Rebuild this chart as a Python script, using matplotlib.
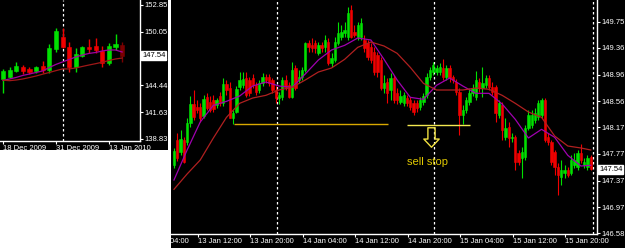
import numpy as np
import matplotlib
matplotlib.use("Agg")
import matplotlib.pyplot as plt
from matplotlib.patches import Rectangle
from matplotlib.path import Path
from matplotlib.transforms import Bbox, TransformedBbox

plt.rcParams['font.family'] = ['Liberation Sans', 'DejaVu Sans']

# ---- daily chart (left), 18 Dec 2009 .. 15 Jan 2010
d_open = [145.11, 145.32, 145.95, 146.36, 146.16, 145.95, 146.47, 146.05, 148.25, 149.50,
          148.46, 146.36, 147.52, 148.46, 148.56, 148.04, 146.78, 148.46, 148.67]
d_high = [146.16, 146.36, 146.89, 146.57, 146.36, 146.47, 146.99, 148.77, 150.44, 150.44,
          148.98, 148.35, 148.56, 149.29, 149.40, 148.56, 148.87, 149.82, 148.98]
d_low = [143.64, 145.21, 145.84, 145.63, 145.63, 145.74, 145.74, 145.74, 147.93, 148.35,
         145.84, 145.84, 147.41, 147.83, 147.83, 146.36, 146.57, 148.14, 146.89]
d_close = [145.95, 146.05, 146.47, 145.95, 145.84, 146.36, 146.05, 148.35, 150.13, 148.46,
           146.36, 147.72, 148.46, 148.25, 148.14, 146.78, 148.56, 148.77, 147.54]
d_ma_fast = [144.95, 145.11, 145.27, 145.48, 145.63, 145.79, 145.95, 146.31, 146.63, 146.89,
             147.15, 147.41, 147.62, 147.78, 147.88, 148.04, 148.14, 148.14, 147.93]
d_ma_slow = [144.98, 144.93, 145.00, 145.11, 145.26, 145.42, 145.61, 145.79, 145.98, 146.16,
             146.16, 146.26, 146.42, 146.57, 146.71, 146.86, 147.04, 147.20, 147.30]
d_ticks = [0, 8, 16]
d_tick_labels = ['18 Dec 2009', '31 Dec 2009', '13 Jan 2010']
d_price_ticks = [152.85, 150.05, 147.24, 144.44, 141.63, 138.83]
d_separator = 9

# ---- 30 min chart (right), 13 Jan 08:30 .. 15 Jan 23:30
m_open = [147.60, 147.98, 147.80, 147.98, 147.95, 148.23, 148.52, 148.47, 148.47, 148.34, 148.62, 148.55, 148.58, 148.50, 148.64, 148.53,
          148.82, 148.76, 148.31, 148.40, 148.77, 148.80, 148.91, 148.88, 148.91, 148.80, 148.73, 148.83, 148.92, 148.92, 148.88, 148.73,
          148.61, 148.62, 148.88, 148.80, 148.62, 149.06, 148.88, 148.92, 149.03, 149.43, 149.40, 149.43, 149.28, 149.40, 149.37, 149.45,
          149.13, 149.18, 149.43, 149.52, 149.58, 149.52, 149.93, 149.60, 149.52, 149.52, 149.48, 149.43, 149.37, 149.30, 149.25, 149.18,
          148.76, 148.85, 148.73, 148.91, 148.68, 148.55, 148.53, 148.61, 148.58, 148.53, 148.53, 148.47, 148.55, 148.65, 148.92, 149.00,
          149.00, 149.00, 149.06, 148.92, 149.06, 148.92, 148.85, 148.70, 148.35, 148.43, 148.55, 148.68, 148.62, 148.85, 148.76, 148.80,
          148.91, 148.77, 148.77, 148.35, 148.50, 148.02, 148.17, 148.01, 148.02, 147.78, 147.71, 147.72, 148.16, 148.20, 148.28, 148.32,
          148.35, 148.58, 148.02, 147.95, 147.80, 147.57, 147.42, 147.48, 147.53, 147.48, 147.60, 147.57, 147.78, 147.60, 147.57, 147.72]
m_close = [147.81, 147.71, 147.99, 147.65, 148.23, 148.52, 148.32, 148.43, 148.31, 148.59, 148.46, 148.43, 148.44, 148.58, 148.53, 148.82,
           148.73, 148.31, 148.38, 148.74, 148.88, 148.89, 148.65, 148.68, 148.80, 148.70, 148.83, 148.92, 148.88, 148.83, 148.73, 148.61,
           148.65, 148.88, 148.77, 148.62, 149.03, 148.76, 148.92, 149.03, 149.43, 149.37, 149.36, 149.36, 149.40, 149.36, 149.48, 149.13,
           149.21, 149.45, 149.58, 149.60, 149.63, 149.89, 149.52, 149.55, 149.70, 149.73, 149.36, 149.22, 149.18, 149.00, 149.00, 148.76,
           148.83, 148.68, 148.91, 148.58, 148.58, 148.64, 148.65, 148.53, 148.47, 148.40, 148.46, 148.58, 148.64, 148.92, 149.03, 149.10,
           149.06, 149.07, 148.92, 149.06, 148.91, 148.88, 148.70, 148.35, 148.43, 148.58, 148.68, 148.76, 148.88, 148.76, 148.83, 148.91,
           148.77, 148.70, 148.38, 148.53, 148.13, 148.16, 148.01, 148.02, 147.65, 147.65, 147.80, 148.16, 148.35, 148.35, 148.38, 148.53,
           148.58, 147.98, 147.95, 147.65, 147.57, 147.45, 147.53, 147.53, 147.45, 147.68, 147.68, 147.78, 147.68, 147.65, 147.71, 147.54]
m_high = [147.86, 148.08, 148.13, 148.02, 148.31, 148.64, 148.73, 148.58, 148.53, 148.65, 148.68, 148.64, 148.65, 148.61, 148.70, 148.91,
          148.88, 148.85, 148.43, 148.79, 149.00, 149.00, 149.00, 148.92, 148.97, 148.85, 148.88, 148.98, 148.97, 148.97, 148.91, 148.79,
          148.70, 148.92, 148.95, 148.85, 149.15, 149.10, 149.03, 149.07, 149.45, 149.48, 149.51, 149.48, 149.45, 149.45, 149.55, 149.51,
          149.28, 149.52, 149.75, 149.70, 149.75, 149.98, 150.01, 149.70, 149.75, 149.81, 149.55, 149.48, 149.43, 149.37, 149.30, 149.22,
          148.95, 148.91, 148.98, 148.95, 148.76, 148.73, 148.70, 148.65, 148.62, 148.58, 148.58, 148.62, 148.68, 148.98, 149.07, 149.15,
          149.10, 149.13, 149.19, 149.10, 149.10, 148.95, 148.89, 148.76, 148.50, 148.62, 148.76, 148.82, 149.01, 148.91, 149.07, 148.95,
          148.95, 148.85, 148.80, 148.58, 148.55, 148.31, 148.25, 148.08, 148.05, 147.83, 147.87, 148.20, 148.43, 148.43, 148.46, 148.58,
          148.61, 148.61, 148.08, 147.98, 147.83, 147.63, 147.68, 147.60, 147.57, 147.75, 147.78, 147.83, 147.92, 147.71, 147.75, 147.75]
m_low = [147.56, 147.66, 147.75, 147.63, 147.90, 148.17, 148.28, 148.38, 148.25, 148.31, 148.43, 148.40, 148.40, 148.46, 148.49, 148.49,
         148.65, 148.31, 148.22, 148.38, 148.73, 148.76, 148.62, 148.64, 148.76, 148.65, 148.68, 148.79, 148.83, 148.79, 148.68, 148.53,
         148.52, 148.58, 148.73, 148.61, 148.61, 148.73, 148.83, 148.88, 149.00, 149.30, 149.30, 149.28, 149.25, 149.30, 149.30, 149.10,
         149.07, 149.15, 149.40, 149.48, 149.52, 149.48, 149.51, 149.52, 149.48, 149.48, 149.30, 149.18, 149.13, 148.95, 148.92, 148.73,
         148.68, 148.53, 148.58, 148.53, 148.52, 148.52, 148.49, 148.49, 148.43, 148.35, 148.40, 148.43, 148.50, 148.61, 148.88, 148.95,
         148.95, 148.95, 148.88, 148.88, 148.85, 148.83, 148.65, 148.05, 148.22, 148.38, 148.50, 148.64, 148.58, 148.70, 148.62, 148.76,
         148.73, 148.65, 148.25, 148.31, 147.98, 147.98, 147.87, 147.95, 147.53, 147.60, 147.41, 147.68, 148.13, 148.16, 148.23, 148.28,
         148.31, 147.95, 147.90, 147.60, 147.45, 147.15, 147.30, 147.41, 147.42, 147.45, 147.56, 147.53, 147.63, 147.56, 147.53, 147.53]
ma_idx = [0, 4, 8, 12, 16, 20, 24, 28, 32, 36, 40, 44, 48, 52, 56, 60, 64,
          68, 72, 76, 80, 84, 88, 92, 96, 100, 104, 108, 112, 116, 120, 124, 127]
m_ma_fast = [147.38, 147.83, 148.25, 148.50, 148.56, 148.64, 148.79, 148.85, 148.79, 148.77, 148.97, 149.18, 149.33, 149.40, 149.51, 149.48, 149.19,
             148.88, 148.62, 148.59, 148.80, 148.91, 148.79, 148.68, 148.68, 148.52, 148.29, 148.01, 148.14, 148.02, 147.75, 147.59, 147.60]
m_ma_slow = [147.24, 147.47, 147.68, 148.01, 148.32, 148.53, 148.61, 148.65, 148.73, 148.77, 148.88, 149.00, 149.06, 149.19, 149.37, 149.45, 149.39,
             149.28, 149.07, 148.83, 148.73, 148.73, 148.73, 148.76, 148.74, 148.65, 148.53, 148.40, 148.32, 148.04, 147.89, 147.86, 147.83]
m_ticks = [7.3, 23.3, 39.3, 55.3, 71.3, 87.3, 103.3, 119.3]
m_tick_labels = ['13 Jan 12:00', '13 Jan 20:00', '14 Jan 04:00', '14 Jan 12:00',
                 '14 Jan 20:00', '15 Jan 04:00', '15 Jan 12:00', '15 Jan 20:00']
m_price_ticks = [149.75, 149.36, 148.96, 148.56, 148.17, 147.77, 147.37, 146.97, 146.58]
m_separators = [31.3, 79.3, 127.6]
bid = 147.54
support1 = (18.2, 65.3, 148.22)
support2 = (71.1, 90.3, 148.20)

W, H = 625, 248
fig = plt.figure(figsize=(W / 100, H / 100), dpi=100, facecolor='white')
fig.patches.append(Rectangle((0, 1 - 150 / H), 168 / W, 150 / H, transform=fig.transFigure,
                             facecolor='black', edgecolor='none', zorder=-5))
fig.patches.append(Rectangle((171 / W, 0), 1 - 171 / W, 1, transform=fig.transFigure,
                             facecolor='black', edgecolor='none', zorder=-5))

axL = fig.add_axes([0, 1 - 141 / H, 140 / W, 141 / H])
axR = fig.add_axes([171 / W, 1 - 234 / H, (597 - 171) / W, 234 / H])

UP, DN = '#00e000', '#f00000'


def candles(ax, o, h, l, c, width, colors, lw):
    x = np.arange(len(o))
    o, h, l, c = map(np.asarray, (o, h, l, c))
    ax.vlines(x, l, h, colors=colors, lw=lw, zorder=3)
    ax.bar(x, np.abs(c - o), bottom=np.minimum(o, c), width=width, color=colors,
           edgecolor=colors, linewidth=0.4, zorder=4)


def style(ax):
    ax.set_facecolor('black')
    for s in ['top', 'left']:
        ax.spines[s].set_visible(False)
    for s in ['right', 'bottom']:
        ax.spines[s].set_color('white')
        ax.spines[s].set_linewidth(1)
    ax.yaxis.tick_right()
    ax.tick_params(colors='white', labelsize=5.5, length=2, width=0.8, pad=1)


# left daily chart
style(axL)
dcol = [UP if c >= o else DN for o, c in zip(d_open, d_close)]
dcol[-1] = '#7a0000'
axL.axvline(d_separator, color='white', lw=0.9, ls=(0, (2, 2)), zorder=2)
candles(axL, d_open, d_high, d_low, d_close, 0.62, dcol, 1.0)
axL.plot(np.arange(len(d_ma_fast)), d_ma_fast, color='#a000a0', lw=0.9, zorder=5)
axL.plot(np.arange(len(d_ma_slow)), d_ma_slow, color='#a01818', lw=0.9, zorder=5)
axL.set_xlim(-0.45, 20.7)
axL.set_ylim(138.62, 153.37)
axL.set_yticks(d_price_ticks)
axL.set_yticklabels([f'{p:.2f}' for p in d_price_ticks])
axL.set_xticks(d_ticks)
axL.set_xticklabels(d_tick_labels)
for t in axL.get_xticklabels():
    t.set_ha('left')
axL.annotate(f'{bid:.2f}', xy=(1, bid), xycoords=('axes fraction', 'data'), xytext=(1.5, 0),
             textcoords='offset points', ha='left', va='center', fontsize=5.5, color='black',
             bbox=dict(boxstyle='square,pad=0.12', fc='white', ec='white'), annotation_clip=False, zorder=10)

# right 30 min chart
style(axR)
mcol = [UP if c >= o else DN for o, c in zip(m_open, m_close)]
for s in m_separators:
    axR.axvline(s, color='white', lw=0.9, ls=(0, (2, 2)), zorder=2)
candles(axR, m_open, m_high, m_low, m_close, 0.72, mcol, 0.8)
axR.plot(ma_idx, m_ma_fast, color='#a000b0', lw=0.9, zorder=5)
axR.plot(ma_idx, m_ma_slow, color='#b02020', lw=0.9, zorder=5)
axR.hlines(support1[2], support1[0], support1[1], color='#d8a800', lw=1.0, zorder=6)
axR.hlines(support2[2], support2[0], support2[1], color='#f4e850', lw=1.0, zorder=6)

arrow = Path([(-0.37, 1), (0.37, 1), (0.37, -0.16), (0.79, -0.16), (0, -1),
              (-0.79, -0.16), (-0.37, -0.16), (-0.37, 1)],
             [Path.MOVETO] + [Path.LINETO] * 6 + [Path.CLOSEPOLY])
axR.plot([78.3], [148.02], marker=arrow, markersize=14, mfc='none', mec='#f0e040', mew=1.0, zorder=7)
axR.text(77.2, 147.65, 'sell stop', color='#e0c800', fontsize=8, ha='center', va='center', zorder=7)

axR.set_xlim(-0.91, 128.9)
axR.set_ylim(146.57, 150.08)
axR.set_yticks(m_price_ticks)
axR.set_yticklabels([f'{p:.2f}' for p in m_price_ticks])
axR.set_xticks(m_ticks)
axR.set_xticklabels(m_tick_labels)
for t in axR.get_xticklabels():
    t.set_ha('left')
first = axR.annotate('13 Jan 04:00', xy=(-8.7, 0), xycoords=('data', 'axes fraction'),
                     xytext=(0, -3.2), textcoords='offset points', ha='left', va='top',
                     fontsize=5.5, color='white', annotation_clip=False)
first.set_clip_box(TransformedBbox(Bbox([[171 / W, 0], [1, 1]]), fig.transFigure))
first.set_clip_on(True)
axR.annotate(f'{bid:.2f}', xy=(1, bid), xycoords=('axes fraction', 'data'), xytext=(1.5, 0),
             textcoords='offset points', ha='left', va='center', fontsize=5.5, color='black',
             bbox=dict(boxstyle='square,pad=0.12', fc='white', ec='white'), annotation_clip=False, zorder=10)

fig.savefig('out.png', dpi=100, facecolor='white')
